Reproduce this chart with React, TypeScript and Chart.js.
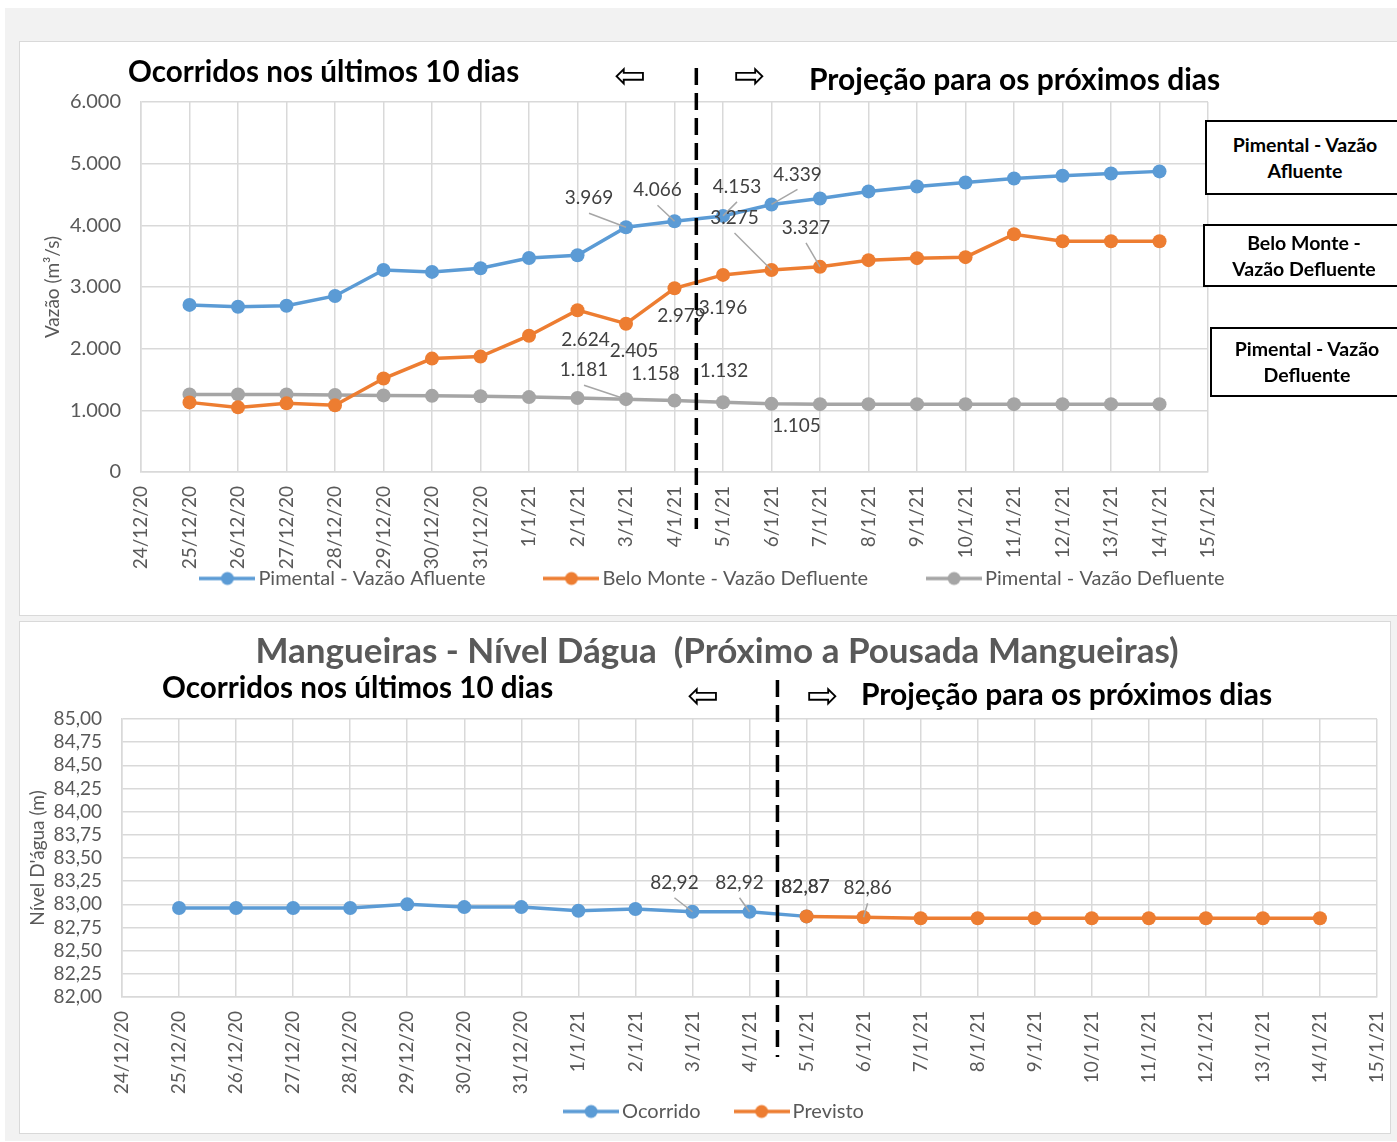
import React, { useEffect, useRef } from "react";
import { Chart, registerables } from "chart.js";

Chart.register(...registerables);

// ---------- DATA ----------
const DATES = [
  "24/12/20", "25/12/20", "26/12/20", "27/12/20", "28/12/20", "29/12/20", "30/12/20", "31/12/20",
  "1/1/21", "2/1/21", "3/1/21", "4/1/21", "5/1/21", "6/1/21", "7/1/21", "8/1/21", "9/1/21",
  "10/1/21", "11/1/21", "12/1/21", "13/1/21", "14/1/21", "15/1/21",
];

// values from 25/12/20 to 14/1/21
const PIMENTAL_AFLUENTE = [2710, 2680, 2695, 2855, 3275, 3245, 3305, 3470, 3515, 3969, 4066, 4153, 4339, 4435, 4550, 4630, 4695, 4760, 4805, 4840, 4875];
const BELO_MONTE_DEFLUENTE = [1129, 1048, 1113, 1081, 1516, 1839, 1871, 2210, 2624, 2405, 2979, 3196, 3275, 3327, 3435, 3468, 3484, 3855, 3742, 3742, 3742];
const PIMENTAL_DEFLUENTE = [1258, 1258, 1258, 1250, 1242, 1235, 1228, 1215, 1200, 1181, 1158, 1132, 1105, 1100, 1100, 1100, 1100, 1100, 1100, 1100, 1100];

// values from 25/12/20 to 5/1/21
const NIVEL_OCORRIDO = [82.96, 82.96, 82.96, 82.96, 83.0, 82.97, 82.97, 82.93, 82.95, 82.92, 82.92, 82.87];
// values from 5/1/21 to 14/1/21
const NIVEL_PREVISTO = [82.87, 82.86, 82.85, 82.85, 82.85, 82.85, 82.85, 82.85, 82.85, 82.85];

const FLOW_MIN = 0;
const FLOW_MAX = 6000;
const FLOW_STEP = 1000;
const LEVEL_MIN = 82;
const LEVEL_MAX = 85;
const LEVEL_STEP = 0.25;

const FLOW_SERIES_NAMES = ["Pimental - Vazão Afluente", "Belo Monte - Vazão Defluente", "Pimental - Vazão Defluente"];
const LEVEL_SERIES_NAMES = ["Ocorrido", "Previsto"];

// ---------- STYLE ----------
const BLUE = "#5B9BD5";
const ORANGE = "#ED7D31";
const GRAY = "#A5A5A5";
const TEXT = "#595959";
const GRID = "#d9d9d9";
const FONT = "Lato";

Chart.defaults.font.family = FONT;

const fmtThousands = (v: number) => Math.round(v).toString().replace(/\B(?=(\d{3})+(?!\d))/g, ".");
const fmtDec = (v: number) => v.toFixed(2).replace(".", ",");

function marker(color: string) {
  const c = document.createElement("canvas");
  c.width = 56;
  c.height = 16;
  const g = c.getContext("2d")!;
  g.strokeStyle = color;
  g.lineWidth = 3.5;
  g.beginPath();
  g.moveTo(0, 8);
  g.lineTo(56, 8);
  g.stroke();
  g.fillStyle = color;
  g.beginPath();
  g.arc(28, 8, 6.5, 0, Math.PI * 2);
  g.fill();
  return c;
}

type LabelSpec = { ds: number; i: number; dx: number; dy: number; leader?: boolean };

function makeOverlay(
  id: string,
  specs: LabelSpec[],
  fmt: (v: number) => string,
  divider: { at: number; above: number; below: number }
) {
  return {
    id,
    afterDatasetsDraw(chart: any) {
      const ctx = chart.ctx;
      ctx.save();
      ctx.font = `19px ${FONT}`;
      ctx.textAlign = "center";
      ctx.textBaseline = "middle";
      for (const s of specs) {
        const el = chart.getDatasetMeta(s.ds).data[s.i];
        const v = chart.data.datasets[s.ds].data[s.i];
        if (!el || v == null) continue;
        const tx = el.x + s.dx;
        const ty = el.y + s.dy;
        if (s.leader) {
          ctx.strokeStyle = "#a6a6a6";
          ctx.lineWidth = 1.5;
          ctx.beginPath();
          ctx.moveTo(tx, ty + 15);
          ctx.lineTo(el.x, el.y);
          ctx.stroke();
        }
        ctx.fillStyle = "#404040";
        ctx.fillText(fmt(v as number), tx, ty);
      }
      ctx.restore();
    },
    afterDraw(chart: any) {
      const { ctx, chartArea } = chart;
      const x = chart.scales.x.getPixelForValue(divider.at);
      ctx.save();
      ctx.setLineDash([17, 8]);
      ctx.lineWidth = 3.5;
      ctx.strokeStyle = "#000";
      ctx.beginPath();
      ctx.moveTo(x, chartArea.top - divider.above);
      ctx.lineTo(x, chartArea.bottom + divider.below);
      ctx.stroke();
      ctx.restore();
    },
  };
}

function legendCfg(padding: number, colors: string[]) {
  return {
    position: "bottom" as const,
    labels: {
      usePointStyle: true,
      pointStyleWidth: 42,
      padding,
      color: TEXT,
      font: { size: 20, family: FONT },
      generateLabels: (chart: any) =>
        chart.data.datasets.map((d: any, i: number) => ({
          text: d.label,
          pointStyle: marker(colors[i]),
          datasetIndex: i,
          fillStyle: colors[i],
          strokeStyle: colors[i],
          lineWidth: 0,
          hidden: false,
          fontColor: TEXT,
        })),
    },
  };
}

function lineDs(label: string, data: (number | null)[], color: string, order = 0) {
  return {
    label,
    data,
    borderColor: color,
    backgroundColor: color,
    borderWidth: 3.5,
    pointRadius: 7,
    pointBackgroundColor: color,
    pointBorderWidth: 0,
    tension: 0,
    spanGaps: false,
    order,
  };
}

function xAxis(height: number) {
  return {
    type: "category" as const,
    offset: false,
    grid: { color: GRID, lineWidth: 1.5, drawTicks: false, offset: false },
    border: { color: GRID, width: 1.5 },
    ticks: { autoSkip: false, maxRotation: 90, minRotation: 90, padding: 14, color: TEXT, font: { size: 19 } },
    afterFit: (s: any) => {
      s.height = height;
      s.paddingLeft = 0;
      s.paddingRight = 0;
      s._computeLabelArea = () => undefined;
    },
  };
}

function spacer(width: number) {
  return {
    position: "right",
    display: true,
    grid: { display: false, drawTicks: false },
    border: { display: false },
    ticks: { display: false },
    afterFit: (s: any) => {
      s.width = width;
    },
  };
}

function FlowChart() {
  const ref = useRef<HTMLCanvasElement>(null);
  useEffect(() => {
    const pad = (a: number[]) => [null, ...a, null];
    const specs: LabelSpec[] = [
      { ds: 0, i: 10, dx: -37, dy: -29, leader: true },
      { ds: 0, i: 11, dx: -17, dy: -31, leader: true },
      { ds: 0, i: 12, dx: 14, dy: -29, leader: true },
      { ds: 0, i: 13, dx: 26, dy: -30, leader: true },
      { ds: 1, i: 9, dx: 8, dy: 30 },
      { ds: 1, i: 10, dx: 8, dy: 27 },
      { ds: 1, i: 11, dx: 7, dy: 28 },
      { ds: 1, i: 12, dx: 0, dy: 33 },
      { ds: 1, i: 13, dx: -37, dy: -52, leader: true },
      { ds: 1, i: 14, dx: -14, dy: -39, leader: true },
      { ds: 2, i: 10, dx: -42, dy: -29, leader: true },
      { ds: 2, i: 11, dx: -19, dy: -27 },
      { ds: 2, i: 12, dx: 1, dy: -31 },
      { ds: 2, i: 13, dx: 25, dy: 22 },
    ];
    const chart = new Chart(ref.current!, {
      type: "line",
      data: {
        labels: DATES,
        datasets: [
          lineDs(FLOW_SERIES_NAMES[0], pad(PIMENTAL_AFLUENTE), BLUE),
          lineDs(FLOW_SERIES_NAMES[1], pad(BELO_MONTE_DEFLUENTE), ORANGE),
          lineDs(FLOW_SERIES_NAMES[2], pad(PIMENTAL_DEFLUENTE), GRAY),
        ] as any,
      },
      options: {
        animation: false,
        responsive: false,
        events: [],
        layout: { padding: { top: 60, left: 14, right: 0, bottom: 16.5 } },
        plugins: {
          legend: legendCfg(65, [BLUE, ORANGE, GRAY]) as any,
          tooltip: { enabled: false },
          title: { display: false },
        },
        scales: {
          x: xAxis(31.5) as any,
          y: {
            min: FLOW_MIN,
            max: FLOW_MAX,
            ticks: { stepSize: FLOW_STEP, padding: 20, color: TEXT, font: { size: 20 }, callback: (v: any) => fmtThousands(Number(v)) },
            grid: { color: GRID, lineWidth: 1.5, drawTicks: false },
            border: { color: GRID, width: 1.5 },
            title: { display: true, text: "Vazão (m³/s)", color: TEXT, font: { size: 19 }, padding: { top: 7, bottom: 0 } },
            afterFit: (s: any) => {
              s.width = 107;
            },
          },
          yR: spacer(189),
        } as any,
      },
      plugins: [makeOverlay("flowOverlay", specs, fmtThousands, { at: 11.45, above: 34, below: 57 })],
    });
    return () => chart.destroy();
  }, []);
  return <canvas ref={ref} width={1377} height={573} style={{ position: "absolute", left: 20, top: 42 }} />;
}

function LevelChart() {
  const ref = useRef<HTMLCanvasElement>(null);
  useEffect(() => {
    const n = DATES.length;
    const ocorrido: (number | null)[] = [null, ...NIVEL_OCORRIDO];
    while (ocorrido.length < n) ocorrido.push(null);
    const startPrev = n - 1 - NIVEL_PREVISTO.length;
    const previsto: (number | null)[] = [];
    for (let k = 0; k < startPrev; k++) previsto.push(null);
    previsto.push(...NIVEL_PREVISTO, null);
    const specs: LabelSpec[] = [
      { ds: 0, i: 10, dx: -18, dy: -29, leader: true },
      { ds: 0, i: 11, dx: -10, dy: -29, leader: true },
      { ds: 0, i: 12, dx: -1, dy: -30 },
      { ds: 1, i: 12, dx: -1, dy: -30 },
      { ds: 1, i: 13, dx: 4, dy: -29, leader: true },
    ];
    const chart = new Chart(ref.current!, {
      type: "line",
      data: {
        labels: DATES,
        datasets: [
          lineDs(LEVEL_SERIES_NAMES[0], ocorrido, BLUE, 1),
          lineDs(LEVEL_SERIES_NAMES[1], previsto, ORANGE, 0),
        ] as any,
      },
      options: {
        animation: false,
        responsive: false,
        events: [],
        layout: { padding: { top: 0, left: 24, right: 0, bottom: 1.5 } },
        plugins: {
          legend: legendCfg(40, [BLUE, ORANGE]) as any,
          tooltip: { enabled: false },
          title: {
            display: true,
            text: "Mangueiras - Nível Dágua  (Próximo a Pousada Mangueiras)",
            color: TEXT,
            font: { size: 35, weight: "bold" },
            padding: { top: 9, bottom: 46 },
          },
        },
        scales: {
          x: xAxis(64.5) as any,
          y: {
            min: LEVEL_MIN,
            max: LEVEL_MAX,
            ticks: {
              stepSize: LEVEL_STEP,
              autoSkip: false,
              padding: 20,
              color: TEXT,
              font: { size: 19 },
              callback: (v: any) => fmtDec(Number(v)),
            },
            grid: { color: GRID, lineWidth: 1.5, drawTicks: false },
            border: { color: GRID, width: 1.5 },
            title: { display: true, text: "Nível D'água (m)", color: TEXT, font: { size: 19 }, padding: { top: -17.4, bottom: 0 } },
            afterFit: (s: any) => {
              s.width = 78;
            },
          },
          yR: spacer(13),
        } as any,
      },
      plugins: [makeOverlay("levelOverlay", specs, fmtDec, { at: 11.49, above: 39, below: 60 })],
    });
    return () => chart.destroy();
  }, []);
  return <canvas ref={ref} width={1370} height={511} style={{ position: "absolute", left: 20, top: 622 }} />;
}

const bold = (size: number): React.CSSProperties => ({
  position: "absolute",
  fontFamily: FONT,
  fontWeight: 700,
  fontSize: size,
  lineHeight: `${size}px`,
  whiteSpace: "nowrap",
  color: "#000",
});

const arrow = (x: number, y: number): React.CSSProperties => ({
  position: "absolute",
  left: x,
  top: y,
  transform: "translate(-50%, -50%)",
  fontFamily: "DejaVu Sans",
  fontSize: 38,
  lineHeight: "38px",
  color: "#000",
});

function Box({ left, top, height, cx, lines }: { left: number; top: number; height: number; cx: number; lines: string[] }) {
  return (
    <>
      <div
        style={{
          position: "absolute",
          left,
          top,
          width: 260,
          height,
          border: "2px solid #000",
          boxSizing: "border-box",
          background: "#fff",
        }}
      />
      <div
        style={{
          position: "absolute",
          left: cx,
          top: top + height / 2,
          transform: "translate(-50%, -50%)",
          fontFamily: FONT,
          fontWeight: 700,
          fontSize: 19.5,
          lineHeight: "26px",
          textAlign: "center",
          whiteSpace: "nowrap",
          color: "#000",
        }}
      >
        {lines.map((l, k) => (
          <div key={k}>{l}</div>
        ))}
      </div>
    </>
  );
}

export default function App() {
  return (
    <div style={{ position: "absolute", left: 0, top: 0, width: 1397, height: 1142, overflow: "hidden", background: "#fff" }}>
      <div style={{ position: "absolute", left: 5, top: 8, width: 1400, height: 1133, background: "#f2f2f2" }} />
      <div style={{ position: "absolute", left: 19, top: 41, width: 1400, height: 575, background: "#fff", border: "1.5px solid #d9d9d9", boxSizing: "border-box" }} />
      <div style={{ position: "absolute", left: 19, top: 621, width: 1372, height: 513, background: "#fff", border: "1.5px solid #d9d9d9", boxSizing: "border-box" }} />
      <FlowChart />
      <LevelChart />
      <div style={{ ...bold(29.6), left: 128, top: 82 - 26.3 }}>Ocorridos nos últimos 10 dias</div>
      <div style={arrow(630, 75)}>⇦</div>
      <div style={arrow(750, 75)}>⇨</div>
      <div style={{ ...bold(30), left: 809, top: 90 - 26.6 }}>Projeção para os próximos dias</div>
      <Box left={1205} top={120} height={75} cx={1305} lines={["Pimental - Vazão", "Afluente"]} />
      <Box left={1203} top={224} height={63} cx={1304} lines={["Belo Monte -", "Vazão Defluente"]} />
      <Box left={1210} top={327} height={70} cx={1307} lines={["Pimental - Vazão", "Defluente"]} />
      <div style={{ ...bold(29.6), left: 162, top: 698 - 26.3 }}>Ocorridos nos últimos 10 dias</div>
      <div style={arrow(703, 695)}>⇦</div>
      <div style={arrow(823, 695)}>⇨</div>
      <div style={{ ...bold(30), left: 861, top: 705 - 26.6 }}>Projeção para os próximos dias</div>
    </div>
  );
}
